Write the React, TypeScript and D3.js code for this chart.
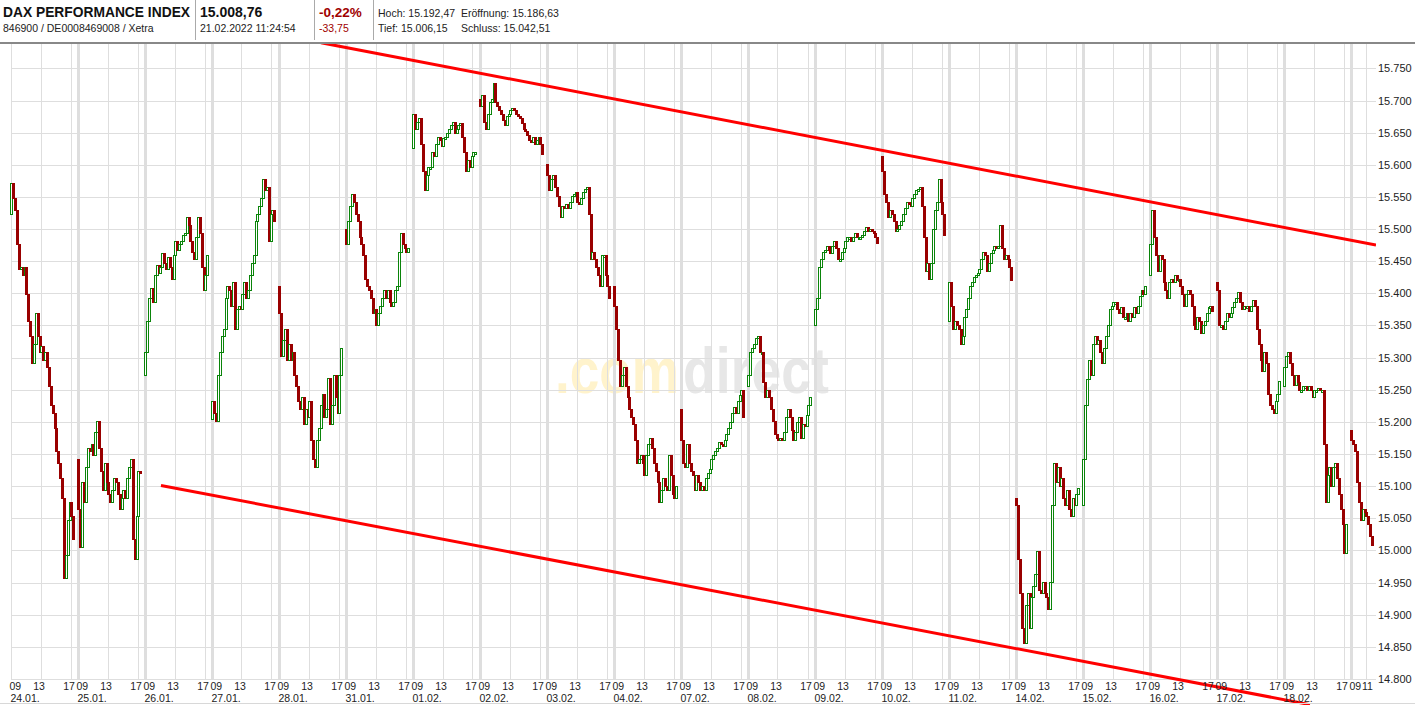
import React, { useRef, useEffect } from 'react';
import * as d3 from 'd3';

// trading days shown on the x axis
const dayLabels = [
  '24.01.', '25.01.', '26.01.', '27.01.', '28.01.', '31.01.', '01.02.', '02.02.', '03.02.', '04.02.',
  '07.02.', '08.02.', '09.02.', '10.02.', '11.02.', '14.02.', '15.02.', '16.02.', '17.02.', '18.02.', '21.02.',
];

// per day: opening price followed by the 15-minute closes
const sessions: number[][] = [
  [15524, 15572, 15548, 15530, 15476, 15438, 15441, 15429, 15441, 15399, 15357, 15333, 15291, 15321, 15369, 15333, 15309, 15318, 15297, 15309, 15285, 15256, 15226, 15214, 15190, 15154, 15136, 15112, 15082, 14957, 14993, 15047, 15076, 15053, 15017],
  [15142, 15065, 15005, 15106, 15076, 15130, 15160, 15154, 15166, 15148, 15184, 15202, 15160, 15124, 15094, 15136, 15106, 15088, 15076, 15094, 15112, 15106, 15088, 15065, 15082, 15094, 15082, 15112, 15130, 15142, 15017, 14987, 15053, 15124, 15121],
  [15273, 15309, 15357, 15393, 15408, 15387, 15429, 15444, 15432, 15441, 15462, 15447, 15438, 15456, 15441, 15423, 15459, 15482, 15467, 15476, 15482, 15491, 15494, 15518, 15506, 15482, 15465, 15453, 15488, 15518, 15494, 15441, 15405, 15429, 15459],
  [15205, 15232, 15214, 15202, 15273, 15309, 15333, 15345, 15393, 15411, 15405, 15381, 15417, 15345, 15375, 15381, 15375, 15399, 15417, 15393, 15405, 15429, 15447, 15459, 15512, 15524, 15536, 15548, 15578, 15560, 15566, 15482, 15524, 15530, 15512],
  [15411, 15369, 15303, 15327, 15345, 15297, 15321, 15297, 15309, 15273, 15256, 15232, 15220, 15238, 15196, 15220, 15208, 15232, 15172, 15142, 15130, 15172, 15190, 15226, 15244, 15208, 15220, 15268, 15196, 15226, 15273, 15238, 15214, 15273, 15315],
  [15500, 15476, 15512, 15536, 15554, 15542, 15524, 15512, 15488, 15476, 15459, 15423, 15411, 15405, 15393, 15369, 15375, 15351, 15369, 15381, 15393, 15405, 15393, 15405, 15387, 15381, 15387, 15405, 15411, 15465, 15494, 15476, 15470, 15465, 15470],
  [15626, 15679, 15656, 15667, 15673, 15632, 15590, 15560, 15584, 15596, 15596, 15620, 15614, 15632, 15644, 15638, 15629, 15641, 15644, 15650, 15656, 15662, 15667, 15650, 15656, 15662, 15665, 15644, 15620, 15590, 15608, 15596, 15614, 15620, 15620],
  [15703, 15691, 15709, 15667, 15656, 15679, 15697, 15703, 15727, 15697, 15691, 15685, 15679, 15670, 15662, 15676, 15679, 15685, 15688, 15685, 15679, 15676, 15673, 15665, 15656, 15653, 15647, 15638, 15635, 15644, 15632, 15638, 15644, 15632, 15617],
  [15602, 15584, 15560, 15578, 15584, 15566, 15551, 15536, 15518, 15536, 15533, 15539, 15533, 15542, 15551, 15554, 15557, 15542, 15539, 15548, 15557, 15563, 15566, 15524, 15453, 15465, 15453, 15441, 15429, 15411, 15459, 15459, 15429, 15411, 15393],
  [15411, 15381, 15345, 15297, 15256, 15273, 15285, 15256, 15238, 15220, 15208, 15196, 15172, 15136, 15142, 15148, 15136, 15118, 15148, 15166, 15175, 15160, 15136, 15124, 15106, 15076, 15094, 15112, 15100, 15094, 15148, 15118, 15088, 15082, 15100],
  [15220, 15172, 15136, 15130, 15166, 15136, 15124, 15118, 15094, 15118, 15106, 15094, 15100, 15094, 15112, 15121, 15127, 15142, 15148, 15154, 15160, 15169, 15166, 15163, 15172, 15181, 15190, 15199, 15214, 15223, 15214, 15232, 15241, 15250, 15208],
  [15256, 15273, 15309, 15315, 15321, 15330, 15333, 15309, 15309, 15262, 15238, 15250, 15238, 15220, 15202, 15181, 15175, 15172, 15175, 15172, 15184, 15208, 15220, 15208, 15187, 15172, 15184, 15199, 15208, 15175, 15196, 15193, 15211, 15226, 15238],
  [15351, 15375, 15393, 15441, 15453, 15465, 15468, 15473, 15468, 15462, 15473, 15482, 15470, 15453, 15453, 15465, 15470, 15482, 15488, 15488, 15482, 15488, 15494, 15488, 15488, 15488, 15491, 15497, 15503, 15497, 15500, 15497, 15494, 15488, 15479],
  [15614, 15590, 15554, 15542, 15518, 15530, 15524, 15512, 15497, 15500, 15506, 15512, 15524, 15533, 15542, 15539, 15536, 15548, 15554, 15560, 15563, 15566, 15536, 15488, 15435, 15447, 15423, 15447, 15500, 15530, 15542, 15578, 15542, 15524, 15491],
  [15357, 15417, 15381, 15345, 15357, 15351, 15345, 15321, 15333, 15363, 15375, 15393, 15411, 15417, 15426, 15429, 15432, 15438, 15453, 15465, 15459, 15435, 15447, 15462, 15468, 15473, 15470, 15473, 15506, 15470, 15453, 15459, 15453, 15441, 15420],
  [15082, 15070, 14987, 14933, 14879, 14856, 14915, 14933, 14879, 14927, 14945, 14963, 14999, 14939, 14933, 14951, 14933, 14927, 14909, 14951, 15070, 15136, 15106, 15130, 15100, 15112, 15082, 15070, 15094, 15065, 15053, 15082, 15070, 15088, 15097],
  [15070, 15142, 15226, 15267, 15297, 15273, 15321, 15333, 15321, 15327, 15309, 15291, 15315, 15333, 15351, 15375, 15381, 15387, 15387, 15375, 15369, 15378, 15363, 15363, 15369, 15357, 15369, 15363, 15378, 15369, 15381, 15396, 15405, 15399, 15411],
  [15429, 15476, 15530, 15488, 15459, 15435, 15459, 15453, 15417, 15405, 15393, 15417, 15423, 15417, 15429, 15420, 15423, 15411, 15399, 15381, 15399, 15405, 15399, 15381, 15351, 15345, 15363, 15357, 15339, 15351, 15357, 15369, 15378, 15381, 15372],
  [15417, 15405, 15351, 15351, 15345, 15357, 15369, 15363, 15369, 15378, 15387, 15393, 15402, 15387, 15375, 15381, 15378, 15381, 15372, 15381, 15390, 15381, 15345, 15321, 15297, 15279, 15309, 15291, 15244, 15226, 15220, 15214, 15232, 15244, 15264],
  [15256, 15285, 15303, 15309, 15291, 15273, 15258, 15273, 15262, 15250, 15250, 15256, 15256, 15250, 15256, 15250, 15238, 15250, 15250, 15253, 15250, 15250, 15166, 15076, 15118, 15130, 15100, 15130, 15136, 15112, 15088, 15065, 15041, 14996, 15041],
  [15187, 15172, 15166, 15154, 15106, 15076, 15047, 15065, 15059, 15053, 15041, 15023, 15009],
];

const priceTicks = [14800, 14850, 14900, 14950, 15000, 15050, 15100, 15150, 15200, 15250, 15300, 15350, 15400, 15450, 15500, 15550, 15600, 15650, 15700, 15750];
const hourTicks = [9, 13, 17];
const lastDayHourTicks = [9, 11];

// trend channel, drawn by hand on the original chart
const upperTrend = [
  { day: 4, hour: 14.67, price: 15790 },
  { day: 20, hour: 12.4, price: 15475 },
];
const lowerTrend = [
  { day: 2, hour: 11.2, price: 15101 },
  { day: 19, hour: 12.53, price: 14760 },
];

const titleLines = ['DAX PERFORMANCE INDEX', '846900 / DE0008469008 / Xetra'];
const quoteLines = ['15.008,76', '21.02.2022 11:24:54'];
const changeLines = ['-0,22%', '-33,75'];
const statLabels = [
  ['Hoch: 15.192,47', 'Eröffnung: 15.186,63'],
  ['Tief: 15.006,15', 'Schluss: 15.042,51'],
];

const W = 1415;
const H = 705;
const FONT = '"Liberation Sans", Arial, sans-serif';
const RED = '#990000';
const GREEN = '#0a840a';
const GRID = '#dedede';

export default function App() {
  const ref = useRef<SVGSVGElement>(null);

  useEffect(() => {
    const root = d3.select(ref.current);
    root.selectAll('*').remove();

    const left = 10.5;
    const right = 1376;
    const top = 44;
    const bottom = 679;
    const sessionSpan = 67 / 7.5; // chart hours per trading day incl. gap

    const t = (day: number, hour: number) => day * sessionSpan + (hour - 9);
    const x = d3.scaleLinear().domain([0, sessionSpan]).range([left, left + 67]);
    const y = d3.scaleLinear().domain([14800, 15750]).range([678.9, 68.4]);

    const fmt = d3.formatLocale({ decimal: ',', thousands: '.', grouping: [3], currency: ['', ''] }).format(',.0f');

    root.append('rect').attr('width', W).attr('height', H).attr('fill', '#fff');

    // watermark, squeezed horizontally to the logo width
    const wmParts = [
      { s: '.com', x0: 555, w: 124, c: '#fff3cc' },
      { s: 'direct', x0: 683, w: 146, c: '#e7e7e7' },
    ];
    wmParts.forEach((p) => {
      const g = root.append('g');
      const txt = g
        .append('text')
        .attr('font-family', FONT)
        .attr('font-weight', 'bold')
        .attr('font-size', 64)
        .attr('fill', p.c)
        .text(p.s);
      const natural = (txt.node() as SVGTextElement).getComputedTextLength() || p.w;
      g.attr('transform', `translate(${p.x0},393) scale(${p.w / natural},1)`);
    });

    const grid = root.append('g').attr('shape-rendering', 'crispEdges');

    grid
      .selectAll('line.h')
      .data(priceTicks)
      .enter()
      .append('line')
      .attr('x1', left)
      .attr('x2', right)
      .attr('y1', (d) => Math.round(y(d)) + 0.5)
      .attr('y2', (d) => Math.round(y(d)) + 0.5)
      .attr('stroke', GRID);

    dayLabels.forEach((_, d) => {
      const hours = d === dayLabels.length - 1 ? lastDayHourTicks : hourTicks;
      hours.forEach((h) => {
        const px = Math.round(x(t(d, h))) + 0.5;
        if (h === 9 && d > 0) {
          grid.append('rect').attr('x', px - 2).attr('y', top).attr('width', 3).attr('height', bottom - top).attr('fill', GRID);
        } else {
          grid.append('line').attr('x1', px).attr('x2', px).attr('y1', top).attr('y2', bottom).attr('stroke', GRID);
        }
      });
    });

    // candles: open is the previous close
    const candles = root.append('g').attr('shape-rendering', 'crispEdges');
    sessions.forEach((vals, d) => {
      for (let i = 1; i < vals.length; i++) {
        const open = vals[i - 1];
        const close = vals[i];
        const cx = Math.round(x(t(d, 9 + (i - 1) * 0.25 + 0.125)));
        const y0 = Math.round(y(Math.max(open, close)));
        const y1 = Math.round(y(Math.min(open, close)));
        const h = Math.max(2, y1 - y0);
        if (close >= open) {
          candles
            .append('rect')
            .attr('x', cx - 0.5)
            .attr('y', y0 + 0.5)
            .attr('width', 2)
            .attr('height', h)
            .attr('fill', '#fff')
            .attr('stroke', GREEN)
            .attr('stroke-width', 1);
        } else {
          candles
            .append('rect')
            .attr('x', cx - 1)
            .attr('y', y0)
            .attr('width', 3)
            .attr('height', h + 1)
            .attr('fill', RED);
        }
      }
    });

    // trend channel
    const clip = root.append('clipPath').attr('id', 'trendClip');
    clip.append('rect').attr('x', 0).attr('y', 43).attr('width', right).attr('height', H - 43);
    const line = d3
      .line<{ day: number; hour: number; price: number }>()
      .x((p) => x(t(p.day, p.hour)))
      .y((p) => y(p.price));
    [upperTrend, lowerTrend].forEach((tr) => {
      root
        .append('path')
        .attr('d', line(tr))
        .attr('clip-path', 'url(#trendClip)')
        .attr('fill', 'none')
        .attr('stroke', '#ff0000')
        .attr('stroke-width', 3);
    });

    // y axis labels
    root
      .selectAll('text.ylab')
      .data(priceTicks)
      .enter()
      .append('text')
      .attr('x', 1378)
      .attr('y', (d) => y(d) + 4)
      .attr('font-family', FONT)
      .attr('font-size', 11)
      .attr('fill', '#222')
      .text((d) => fmt(d));

    // x axis labels
    const xl = root.append('g').attr('font-family', FONT).attr('font-size', 10.5).attr('fill', '#222');
    dayLabels.forEach((label, d) => {
      const last = d === dayLabels.length - 1;
      const hours = last ? lastDayHourTicks : hourTicks;
      hours.forEach((h) => {
        const px = x(t(d, h));
        xl.append('text')
          .attr('x', h === 9 ? px - 1 : h === 11 ? px + 2 : px - 1.5)
          .attr('y', 690)
          .attr('text-anchor', h === 9 ? 'start' : 'middle')
          .text(String(h).padStart(2, '0'));
      });
      if (!last) {
        xl.append('text').attr('x', x(t(d, 9))).attr('y', 701.5).text(label);
      }
    });

    root.append('line').attr('x1', 0).attr('x2', W).attr('y1', 703.5).attr('y2', 703.5).attr('stroke', '#d8d8d8');

    // header
    const hd = root.append('g').attr('font-family', FONT);
    hd.append('text').attr('x', 3).attr('y', 17).attr('font-size', 13.8).attr('font-weight', 'bold').attr('fill', '#111').text(titleLines[0]);
    hd.append('text').attr('x', 3).attr('y', 31.5).attr('font-size', 10.5).attr('fill', '#222').text(titleLines[1]);
    hd.append('text').attr('x', 200).attr('y', 17).attr('font-size', 14).attr('font-weight', 'bold').attr('fill', '#111').text(quoteLines[0]);
    hd.append('text').attr('x', 200).attr('y', 31.5).attr('font-size', 10.5).attr('fill', '#222').text(quoteLines[1]);
    hd.append('text').attr('x', 319).attr('y', 17).attr('font-size', 13.5).attr('font-weight', 'bold').attr('fill', '#a00000').text(changeLines[0]);
    hd.append('text').attr('x', 319).attr('y', 31.5).attr('font-size', 10.5).attr('fill', '#a00000').text(changeLines[1]);
    statLabels.forEach((row, r) => {
      row.forEach((s, c) => {
        hd.append('text')
          .attr('x', c === 0 ? 378 : 461)
          .attr('y', r === 0 ? 17 : 31.5)
          .attr('font-size', 10.5)
          .attr('fill', '#222')
          .text(s);
      });
    });
    [195.5, 314.5, 373.5].forEach((sx) => {
      hd.append('line').attr('x1', sx).attr('x2', sx).attr('y1', 0).attr('y2', 40).attr('stroke', '#aaa');
    });
    hd.append('rect').attr('x', 0).attr('y', 42).attr('width', W).attr('height', 2).attr('fill', '#888');
  }, []);

  return (
    <>
      <style>{'body{margin:0}'}</style>
      <svg ref={ref} width={W} height={H} style={{ display: 'block' }} />
    </>
  );
}
